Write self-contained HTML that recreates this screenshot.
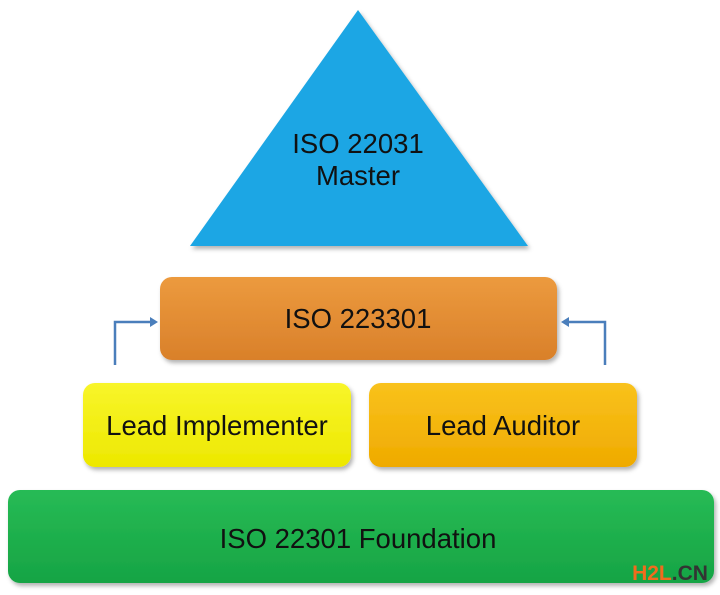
<!DOCTYPE html>
<html><head><style>body{margin:0;background:#fff}svg{display:block}</style></head><body>
<svg width="720" height="595" viewBox="0 0 720 595" xmlns="http://www.w3.org/2000/svg" font-family="'Liberation Sans',sans-serif" font-size="27.5" text-anchor="middle">
<defs>
<filter id="s" x="-5%" y="-10%" width="110%" height="130%"><feDropShadow dx="2" dy="3" stdDeviation="2" flood-opacity="0.3"/></filter>
<linearGradient id="o" x1="0" y1="0" x2="0" y2="1"><stop offset="0" stop-color="#ec9a3e"/><stop offset="1" stop-color="#d9802a"/></linearGradient>
<linearGradient id="y" x1="0" y1="0" x2="0" y2="1"><stop offset="0" stop-color="#f8f52a"/><stop offset="1" stop-color="#ede800"/></linearGradient>
<linearGradient id="a" x1="0" y1="0" x2="0" y2="1"><stop offset="0" stop-color="#f9c21c"/><stop offset="1" stop-color="#efaa00"/></linearGradient>
<linearGradient id="g" x1="0" y1="0" x2="0" y2="1"><stop offset="0" stop-color="#27bb55"/><stop offset="1" stop-color="#16a444"/></linearGradient>
</defs>
<polygon points="358,10 528,246 190,246" fill="#1ba6e4" filter="url(#s)"/>
<text x="358" y="153" fill="#111">ISO 22031</text>
<text x="358" y="185" fill="#111">Master</text>
<rect x="160" y="277" width="397" height="83" rx="12" fill="url(#o)" filter="url(#s)"/>
<text x="358" y="328" fill="#111">ISO 223301</text>
<g stroke="#4a7ebb" stroke-width="2.5" fill="none"><path d="M115,365V322H152"/><path d="M605,365V322H568"/></g>
<polygon points="158,322 150,317 150,327" fill="#4a7ebb"/>
<polygon points="561,322 569,317 569,327" fill="#4a7ebb"/>
<rect x="83" y="383" width="268" height="84" rx="12" fill="url(#y)" filter="url(#s)"/>
<text x="217" y="435" fill="#111">Lead Implementer</text>
<rect x="369" y="383" width="268" height="84" rx="12" fill="url(#a)" filter="url(#s)"/>
<text x="503" y="435" fill="#111">Lead Auditor</text>
<rect x="8" y="490" width="706" height="93" rx="12" fill="url(#g)" filter="url(#s)"/>
<text x="358" y="548" fill="#111">ISO 22301 Foundation</text>
<text x="670" y="580" font-size="21" font-weight="bold" text-anchor="middle"><tspan fill="#f26b1d">H2L</tspan><tspan fill="#333">.CN</tspan></text>
</svg>
</body></html>
